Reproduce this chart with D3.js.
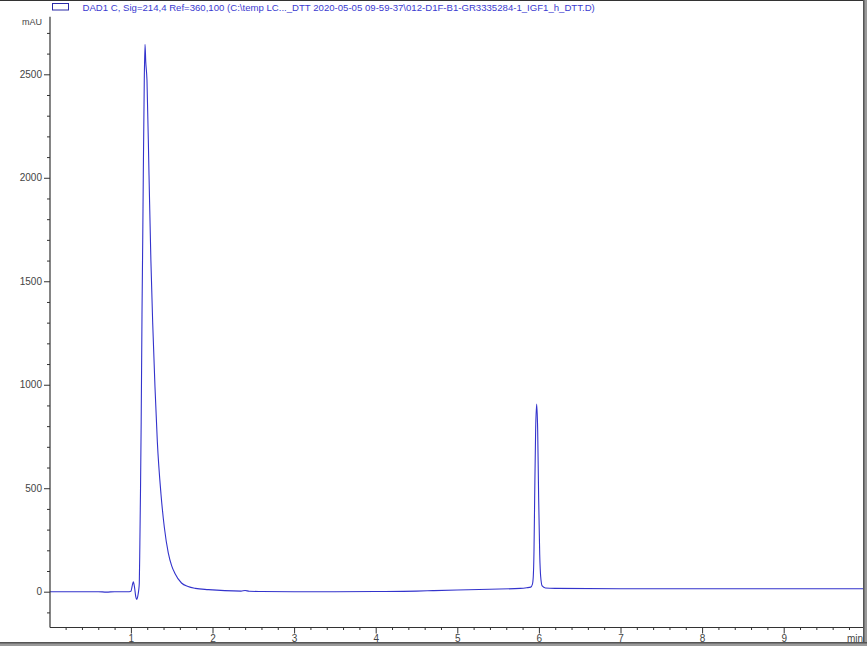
<!DOCTYPE html>
<html>
<head>
<meta charset="utf-8">
<script src="https://cdn.jsdelivr.net/npm/d3@7"></script>
<style>
  html, body { margin: 0; padding: 0; background: #fff; }
  svg { display: block; }
  text { font-family: "Liberation Sans", Arial, sans-serif; }
</style>
</head>
<body>
<svg id="chart" width="867" height="646"></svg>
<script>
// ---- data ----
const legendLabel = "DAD1 C, Sig=214,4 Ref=360,100 (C:\\temp LC..._DTT 2020-05-05 09-59-37\\012-D1F-B1-GR3335284-1_IGF1_h_DTT.D)";
const yUnit = "mAU";
const xUnit = "min";
const xMajorTicks = [1, 2, 3, 4, 5, 6, 7, 8, 9];
const yMajorTicks = [0, 500, 1000, 1500, 2000, 2500];
const timeMin = [
  0.00, 0.60, 0.70, 0.80, 0.98, 1.00, 1.02, 1.03, 1.045, 1.06, 1.071, 1.085, 1.095,
  1.103, 1.11, 1.118, 1.126, 1.136, 1.145, 1.152, 1.164, 1.173, 1.182, 1.197, 1.222,
  1.245, 1.267, 1.295, 1.324, 1.369, 1.41, 1.458, 1.50, 1.54, 1.62, 1.70, 1.79, 1.95, 2.15,
  2.35, 2.40, 2.45, 2.6, 3.0, 3.5, 4.0, 4.5, 4.7, 5.0, 5.4, 5.77, 5.85, 5.90, 5.92,
  5.931, 5.94, 5.948, 5.96, 5.973, 5.985, 5.997, 6.01, 6.022, 6.04, 6.08, 6.2, 7.0,
  8.0, 9.0, 10.0
];
const signalMAU = [
  0, 0, -2, 0, 0, 2, 35, 48, 20, -25, -37, -20, 5,
  42, 235, 500, 820, 1340, 1700, 2013, 2472, 2645, 2560, 2472, 2013,
  1600, 1300, 990, 725, 470, 310, 188, 125, 88, 42, 25, 16, 10, 5,
  3, 6, 2, 1, 0, 0, 1, 3, 5, 8, 12, 16, 19, 22, 35,
  72, 200, 450, 780, 907, 780, 450, 180, 72, 28, 18, 16, 14,
  14, 14, 14
];

// ---- layout ----
const svg = d3.select("#chart");
const W = 867, H = 646;
const axisX = 50, axisBottom = 627.5, axisTop = 16.7, axisRight = 863;

const x = d3.scaleLinear().domain([0, 10]).range([49.3, 865.3]);
const y = d3.scaleLinear().domain([0, 2500]).range([591.7, 74.3]);

const data = timeMin.map((t, i) => ({ t, v: signalMAU[i] }));

// clip
svg.append("clipPath").attr("id", "plotclip")
  .append("rect").attr("x", axisX).attr("y", 0).attr("width", axisRight - axisX).attr("height", axisBottom);

// trace
const line = d3.line().x(d => x(d.t)).y(d => y(d.v)).curve(d3.curveMonotoneX);
svg.append("path")
  .datum(data)
  .attr("clip-path", "url(#plotclip)")
  .attr("fill", "none")
  .attr("stroke", "#3333cc")
  .attr("stroke-width", 1.1)
  .attr("d", line);

// ---- y axis ----
const yMinor = d3.range(-100, 2701, 100).filter(v => v % 500 !== 0);
const gY = svg.append("g").attr("transform", `translate(${axisX},0)`);
gY.append("line").attr("x1", 0).attr("x2", 0).attr("y1", axisTop).attr("y2", axisBottom)
  .attr("stroke", "#333").attr("stroke-width", 1.2);
gY.call(g => {
  const ax = d3.axisLeft(y).tickValues(yMinor).tickSize(3).tickFormat("");
  const sub = g.append("g").call(ax);
  sub.select(".domain").remove();
  sub.selectAll("line").attr("stroke", "#333");
});
gY.call(g => {
  const ax = d3.axisLeft(y).tickValues(yMajorTicks).tickSize(6).tickPadding(2).tickFormat(d3.format("d"));
  const sub = g.append("g").call(ax);
  sub.select(".domain").remove();
  sub.selectAll("line").attr("stroke", "#333");
  sub.selectAll("text").attr("fill", "#444").style("font-size", "10px")
    .style("font-family", "'Liberation Sans', Arial, sans-serif");
});
svg.append("text").attr("x", 42).attr("y", 25).attr("text-anchor", "end")
  .attr("fill", "#444").style("font-size", "9px").text(yUnit);

// ---- x axis ----
const xMinor = d3.range(1, 50).map(i => i * 0.2).filter(v => Math.abs(v - Math.round(v)) > 1e-6);
const gX = svg.append("g").attr("transform", `translate(0,${axisBottom})`);
gX.append("line").attr("x1", axisX).attr("x2", axisRight).attr("y1", 0).attr("y2", 0)
  .attr("stroke", "#333").attr("stroke-width", 1.2);
gX.call(g => {
  const ax = d3.axisBottom(x).tickValues(xMinor).tickSize(2.5).tickFormat("");
  const sub = g.append("g").call(ax);
  sub.select(".domain").remove();
  sub.selectAll("line").attr("stroke", "#333");
});
gX.call(g => {
  const ax = d3.axisBottom(x).tickValues(xMajorTicks).tickSize(6).tickPadding(1).tickFormat(d3.format("d"));
  const sub = g.append("g").call(ax);
  sub.select(".domain").remove();
  sub.selectAll("line").attr("stroke", "#333");
  sub.selectAll("text").attr("fill", "#444").style("font-size", "10px")
    .style("font-family", "'Liberation Sans', Arial, sans-serif");
});
svg.append("text").attr("x", 863).attr("y", 642).attr("text-anchor", "end")
  .attr("fill", "#444").style("font-size", "10px").text(xUnit);

// ---- legend ----
svg.append("rect").attr("x", 52.5).attr("y", 3.5).attr("width", 16).attr("height", 6.5)
  .attr("fill", "none").attr("stroke", "#2a2aa8").attr("stroke-width", 1);
svg.append("text").attr("x", 82.5).attr("y", 11).attr("fill", "#3a3ad0")
  .style("font-size", "9.6px").text(legendLabel);

// ---- window frame ----
svg.append("rect").attr("x", 0).attr("y", 0).attr("width", W).attr("height", 1).attr("fill", "#333");
svg.append("rect").attr("x", 863).attr("y", 0).attr("width", 4).attr("height", H).attr("fill", "#9a9a9a");
svg.append("rect").attr("x", 863).attr("y", 0).attr("width", 1.5).attr("height", H).attr("fill", "#555");
svg.append("rect").attr("x", 0).attr("y", 642).attr("width", W).attr("height", 4).attr("fill", "#9a9a9a");
svg.append("rect").attr("x", 0).attr("y", 642).attr("width", W).attr("height", 1.5).attr("fill", "#555");
</script>
</body>
</html>
